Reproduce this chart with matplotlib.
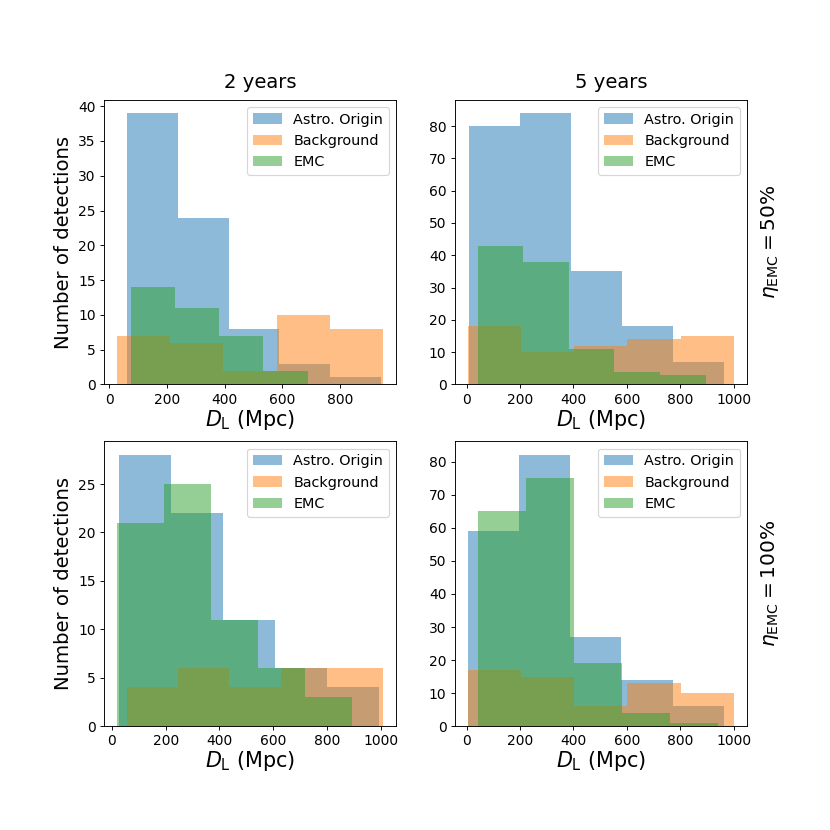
import numpy as np
import matplotlib
matplotlib.use('Agg')
import matplotlib.pyplot as plt

# Histogram data: (min, max) of D_L in Mpc and counts per bin
# 2 years, eta_EMC = 50%
astro_2y_50_range = (61, 942)
astro_2y_50 = [39, 24, 8, 3, 1]
bkg_2y_50_range = (27, 948)
bkg_2y_50 = [7, 6, 2, 10, 8]
emc_2y_50_range = (75, 687)
emc_2y_50 = [14, 11, 7, 2]

# 5 years, eta_EMC = 50%
astro_5y_50_range = (9, 964)
astro_5y_50 = [80, 84, 35, 18, 7]
bkg_5y_50_range = (5, 1000)
bkg_5y_50 = [18, 10, 12, 14, 15]
emc_5y_50_range = (41, 895)
emc_5y_50 = [43, 38, 11, 4, 3]

# 2 years, eta_EMC = 100%
astro_2y_100_range = (28, 995)
astro_2y_100 = [28, 22, 11, 6, 4]
bkg_2y_100_range = (56, 1008)
bkg_2y_100 = [4, 6, 4, 6, 6]
emc_2y_100_range = (19, 893)
emc_2y_100 = [21, 25, 11, 6, 3]

# 5 years, eta_EMC = 100%
astro_5y_100_range = (5, 963)
astro_5y_100 = [59, 82, 27, 14, 6]
bkg_5y_100_range = (5, 1000)
bkg_5y_100 = [17, 15, 6, 13, 10]
emc_5y_100_range = (41, 940)
emc_5y_100 = [65, 75, 19, 4, 1]

col_titles = ['2 years', '5 years']
row_labels = [r'$\eta_{\rm EMC}=50\%$', r'$\eta_{\rm EMC}=100\%$']
labels = ['Astro. Origin', 'Background', 'EMC']

panels = [
    [[(astro_2y_50_range, astro_2y_50), (bkg_2y_50_range, bkg_2y_50), (emc_2y_50_range, emc_2y_50)],
     [(astro_5y_50_range, astro_5y_50), (bkg_5y_50_range, bkg_5y_50), (emc_5y_50_range, emc_5y_50)]],
    [[(astro_2y_100_range, astro_2y_100), (bkg_2y_100_range, bkg_2y_100), (emc_2y_100_range, emc_2y_100)],
     [(astro_5y_100_range, astro_5y_100), (bkg_5y_100_range, bkg_5y_100), (emc_5y_100_range, emc_5y_100)]],
]

fig, axes = plt.subplots(2, 2, figsize=(10, 10), dpi=83)
fig.subplots_adjust(bottom=0.125)

for i in range(2):
    for j in range(2):
        ax = axes[i, j]
        for (rng, counts), lab in zip(panels[i][j], labels):
            edges = np.linspace(rng[0], rng[1], len(counts) + 1)
            ax.hist(edges[:-1], bins=edges, weights=counts, alpha=0.5, label=lab)
        ax.set_xlabel(r'$D_{\rm L}$ (Mpc)', fontsize=18, labelpad=1)
        if j == 0:
            ax.set_ylabel('Number of detections', fontsize=17)
        if i == 0:
            ax.set_title(col_titles[j], fontsize=17, pad=10, x=0.535)
        if j == 1:
            ax.text(1.04, 0.5, row_labels[i], transform=ax.transAxes, rotation=90,
                    va='center', ha='left', fontsize=17.5)
        ax.tick_params(labelsize=12)
        ax.legend(loc='upper right', fontsize=12.5)

plt.savefig('out.png', dpi=83)
